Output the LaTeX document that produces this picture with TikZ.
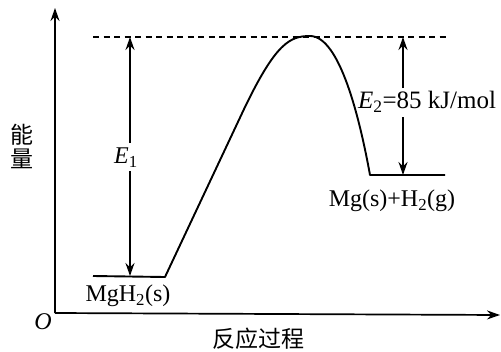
\documentclass[tikz,border=0pt]{standalone}
\usepackage{fontspec}
\setmainfont{Liberation Serif}
\newfontfamily\cjk{Noto Sans CJK SC}
\usetikzlibrary{arrows.meta}
\begin{document}
\begin{tikzpicture}[x=1pt,y=-1pt,
  line/.style={line width=1.9pt},
  arr/.style={line width=1.7pt,-{Stealth[length=13pt,width=9pt]}},
  lbl/.style={font=\fontsize{24}{28}\selectfont,inner sep=0pt},
  cjklbl/.style={font=\cjk\fontsize{23}{25}\selectfont,inner sep=0pt}]
\useasboundingbox (0,0) rectangle (501,351);
% axes
\coordinate (O) at (55,313);
\coordinate (ytop) at (55,8);
\coordinate (xend) at (500,315);
\draw[arr] (O) -- (ytop);
\draw[arr] (O) -- (xend);
\node[lbl,font=\fontsize{24}{28}\selectfont\itshape] (o) at (43,322) {O};
\node[cjklbl,align=center] (ylab) at (22,146) {能\\[-1pt]量};
\node[cjklbl] (xlab) at (258,339) {反应过程};
% dashed top line
\coordinate (d1) at (93,37);
\coordinate (d2) at (450,37);
\draw[line width=1.5pt,dash pattern=on 6pt off 4.5pt] (d1) -- (d2);
% energy profile
\coordinate (a0) at (93,276);
\coordinate (a1) at (165,277);
\coordinate (a2) at (245,107);
\coordinate (pk) at (310,36);
\coordinate (b0) at (370,175);
\coordinate (b1) at (445,175);
\draw[line,line join=round] (a0) -- (a1) -- (a2)
  .. controls (276,43) and (290,36) .. (pk)
  .. controls (340,36) and (360,120) .. (b0) -- (b1);
% E1
\node[lbl] (e1) at (126,158) {\textit{E}\textsubscript{1}};
\coordinate (e1top) at (130,37);
\coordinate (e1bot) at (130,276);
\draw[arr] (130,143) -- (e1top);
\draw[arr] (130,171) -- (e1bot);
% E2
\node[lbl,font=\fontsize{25}{28}\selectfont] (e2) at (427,102) {\textit{E}\textsubscript{2}=85 kJ/mol};
\coordinate (e2top) at (403,37);
\coordinate (e2bot) at (403,175);
\draw[arr] (403,88) -- (e2top);
\draw[arr] (403,117) -- (e2bot);
% state labels
\node[lbl] (mgh2) at (128,296) {MgH\textsubscript{2}(s)};
\node[lbl] (mgh) at (392,201) {Mg(s)+H\textsubscript{2}(g)};
\end{tikzpicture}
\end{document}
